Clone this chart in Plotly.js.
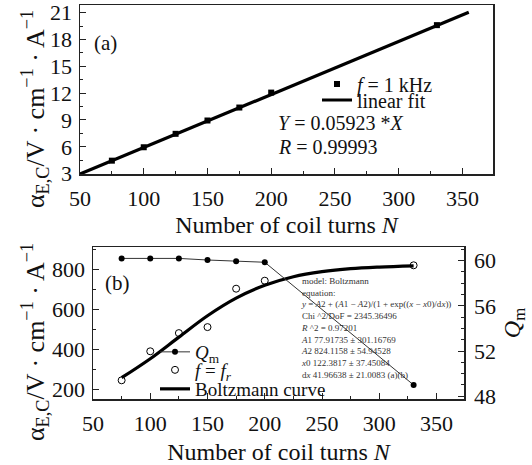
<!DOCTYPE html>
<html>
<head>
<meta charset="utf-8">
<script src="https://cdn.plot.ly/plotly-3.0.1.min.js"></script>
<style>html,body{margin:0;padding:0;background:#fff;}#chart{width:532px;height:465px;}</style>
</head>
<body>
<div id="chart"></div>
<script>
// ---- data ----
var turnsN = [75, 100, 125, 150, 175, 200, 330];
var alpha1kHz = [4.45, 5.95, 7.45, 8.94, 10.39, 12.06, 19.6];
var fitX = [50, 355];
var fitY = [2.96, 21.03];
var qm = [60.2, 60.2, 60.2, 60.06, 59.95, 59.86, 49.0];
var alphaFr = [247, 392, 483, 513, 705, 745, 822];
var curveX = [75, 100, 125, 150, 175, 200, 225, 250, 275, 300, 330];
var curveY = [260, 355, 463, 570, 658, 722, 765, 790, 805, 813, 819];
var fitInfo = [
  'model: Boltzmann',
  'equation:',
  '<i>y</i> = <i>A</i>2 + (<i>A</i>1 − <i>A</i>2)/(1 + exp((<i>x</i> − <i>x</i>0)/d<i>x</i>))',
  'Chi ^2/DoF = 2345.36496',
  '<i>R</i> ^2 = 0.97201',
  '<i>A</i>1 77.91735 ± 301.16769',
  '<i>A</i>2 824.1158 ± 54.94528',
  '<i>x</i>0 122.3817 ± 37.45084',
  'd<i>x</i> 41.96638 ± 21.0083 (a)(b)'
];

var W = 532, H = 465;
function px(x){return x / W;}
function py(y){return 1 - y / H;}
var FONT = '"Liberation Serif", "Times New Roman", serif';
var INK = '#111';

var traces = [
  {x: turnsN, y: alpha1kHz, xaxis: 'x', yaxis: 'y', mode: 'markers', type: 'scatter',
   name: '<i>f</i> = 1 kHz', legend: 'legend',
   marker: {symbol: 'square', size: 6, color: '#000'}},
  {x: fitX, y: fitY, xaxis: 'x', yaxis: 'y', mode: 'lines', type: 'scatter',
   name: 'linear fit', legend: 'legend2',
   line: {color: '#000', width: 3.2}},
  {x: curveX, y: curveY, xaxis: 'x2', yaxis: 'y2', mode: 'lines', type: 'scatter',
   name: 'Boltzmann curve', legend: 'legend5',
   line: {color: '#000', width: 3.2, shape: 'spline'}},
  {x: turnsN, y: alphaFr, xaxis: 'x2', yaxis: 'y2', mode: 'markers', type: 'scatter',
   name: '<i>f</i> = <i>f<sub>r</sub></i>', legend: 'legend4',
   marker: {symbol: 'circle-open', size: 7, color: '#000', line: {width: 1}}},
  {x: turnsN, y: qm, xaxis: 'x2', yaxis: 'y3', mode: 'lines+markers', type: 'scatter',
   name: '<i>Q</i><sub>m</sub>', legend: 'legend3',
   line: {color: '#333', width: 1},
   marker: {symbol: 'circle', size: 6, color: '#000'}}
];

function baseAxis(extra){
  var a = {
    showgrid: false, zeroline: false, showline: true, linecolor: '#222', linewidth: 1.5,
    mirror: true, ticks: 'inside', ticklen: 6, tickwidth: 1, tickcolor: '#222',
    tickfont: {family: FONT, size: 22, color: INK},
    minor: {ticks: 'inside', ticklen: 3, tickwidth: 1, tickcolor: '#222'}
  };
  for (var k in extra) a[k] = extra[k];
  return a;
}

function legendAt(x, y, size){
  return {x: px(x), y: py(y), xanchor: 'left', yanchor: 'middle', bgcolor: 'rgba(0,0,0,0)',
          borderwidth: 0, font: {family: FONT, size: size, color: INK}, itemwidth: 30};
}

var layout = {
  width: W, height: H,
  margin: {l: 0, r: 0, t: 0, b: 0},
  paper_bgcolor: '#fff', plot_bgcolor: '#fff',
  font: {family: FONT, color: INK},
  xaxis: baseAxis({domain: [px(80), px(493)], anchor: 'y', range: [50, 374], tick0: 50, dtick: 50,
    minor: {ticks: 'inside', ticklen: 3, tickwidth: 1, tickcolor: '#222', dtick: 25},
    ticklabelstandoff: 4,
    title: {text: 'Number of coil turns <i>N</i>', font: {family: FONT, size: 24, color: INK}, standoff: 6}}),
  yaxis: baseAxis({domain: [py(174), py(5)], anchor: 'x', range: [2.96, 21.85], tick0: 3, dtick: 3,
    minor: {ticks: 'inside', ticklen: 3, tickwidth: 1, tickcolor: '#222', dtick: 1.5},
    ticklabelstandoff: 2}),
  xaxis2: baseAxis({domain: [px(93), px(464)], anchor: 'y2', range: [50, 374], tick0: 50, dtick: 50,
    minor: {ticks: 'inside', ticklen: 3, tickwidth: 1, tickcolor: '#222', dtick: 25},
    ticklabelstandoff: 4,
    title: {text: 'Number of coil turns <i>N</i>', font: {family: FONT, size: 24, color: INK}, standoff: 14}}),
  yaxis2: baseAxis({domain: [py(399), py(247)], anchor: 'x2', range: [153.5, 913.5], tick0: 200, dtick: 200,
    minor: {ticks: 'inside', ticklen: 3, tickwidth: 1, tickcolor: '#222', dtick: 100},
    ticklabelstandoff: 2}),
  yaxis3: baseAxis({overlaying: 'y2', anchor: 'x2', side: 'right', range: [47.76, 61.21], tick0: 48, dtick: 4,
    mirror: false,
    minor: {ticks: 'inside', ticklen: 3, tickwidth: 1, tickcolor: '#222', dtick: 1},
    ticklabelstandoff: 4,
    title: {text: '<i>Q</i><sub>m</sub>', font: {family: FONT, size: 24, color: INK}, standoff: 8}}),
  legend: legendAt(317, 84, 20),
  legend2: legendAt(317, 100, 20),
  legend3: legendAt(155, 352, 19),
  legend4: legendAt(155, 370, 19),
  legend5: legendAt(155, 389, 19),
  showlegend: true,
  annotations: [
    {xref: 'paper', yref: 'paper', x: px(35), y: py(109), text: 'α<sub>E,C</sub>/V · cm<sup>−1</sup> · A<sup>−1</sup>',
     textangle: -90, showarrow: false, xanchor: 'center', yanchor: 'middle', font: {family: FONT, size: 26, color: INK}},
    {xref: 'paper', yref: 'paper', x: px(35), y: py(342), text: 'α<sub>E,C</sub>/V · cm<sup>−1</sup> · A<sup>−1</sup>',
     textangle: -90, showarrow: false, xanchor: 'center', yanchor: 'middle', font: {family: FONT, size: 26, color: INK}},
    {xref: 'paper', yref: 'paper', x: px(92), y: py(43), text: '(a)', showarrow: false,
     xanchor: 'left', yanchor: 'middle', font: {family: FONT, size: 21, color: INK}},
    {xref: 'paper', yref: 'paper', x: px(103), y: py(283), text: '(b)', showarrow: false,
     xanchor: 'left', yanchor: 'middle', font: {family: FONT, size: 21, color: INK}},
    {xref: 'paper', yref: 'paper', x: px(276), y: py(123), text: '<i>Y</i> = 0.05923 *<i>X</i>', showarrow: false,
     xanchor: 'left', yanchor: 'middle', font: {family: FONT, size: 20, color: INK}},
    {xref: 'paper', yref: 'paper', x: px(276), y: py(147), text: '<i>R</i> = 0.99993', showarrow: false,
     xanchor: 'left', yanchor: 'middle', font: {family: FONT, size: 20, color: INK}},
    {xref: 'paper', yref: 'paper', x: px(299), y: py(328), text: fitInfo.join('<br>'), showarrow: false,
     xanchor: 'left', yanchor: 'middle', align: 'left', font: {family: FONT, size: 9, color: '#333'}}
  ]
};

Plotly.newPlot('chart', traces, layout, {displayModeBar: false, staticPlot: true});
</script>
</body>
</html>
